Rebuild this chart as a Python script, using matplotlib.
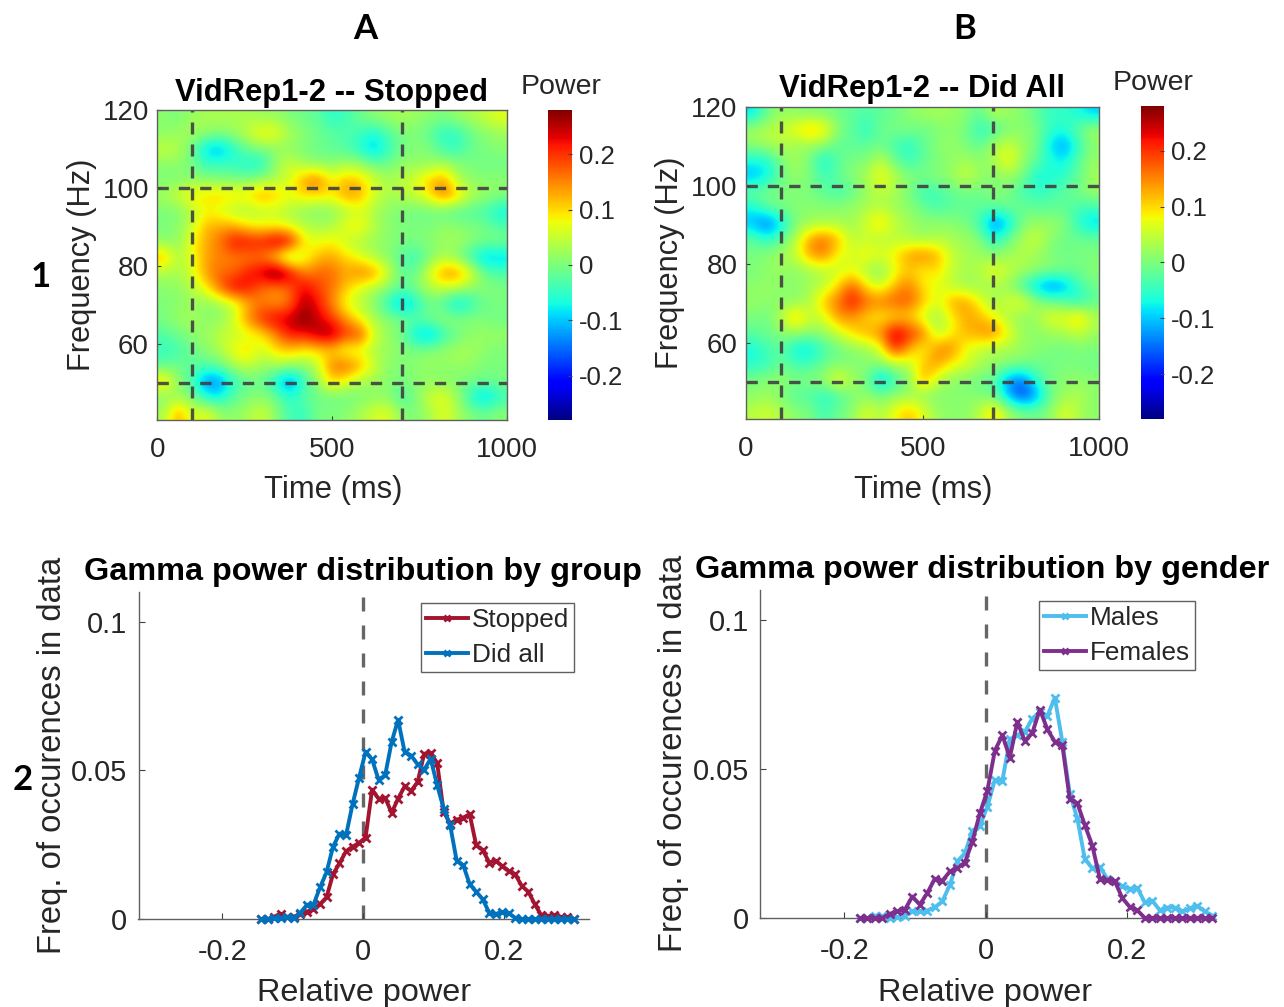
import matplotlib
matplotlib.use("Agg")
import matplotlib.pyplot as plt
import numpy as np

W, H = 1284, 1007

# Panel A heat map, power in hundredths, top row first
heat_a = [
[1,0,2,3,3,3,3,2,2,0,-1,-2,-6,-4,-1,1,2,3,2,1,0,2,3,5,7],
[1,2,3,2,1,2,5,9,8,3,1,-1,-2,-3,-4,-7,-3,0,0,-2,-6,-5,-1,1,2],
[5,4,-1,-10,-12,-6,-1,0,1,1,0,-1,-2,-3,-6,-11,-5,-1,1,0,-4,-5,-1,0,1],
[1,1,0,-5,-4,-5,-7,-7,2,6,2,1,1,3,2,-1,-1,2,1,2,3,1,0,-1,-1],
[0,0,1,1,0,0,0,2,3,6,14,17,8,12,11,6,3,4,7,11,14,3,1,1,1],
[3,6,9,10,11,10,10,14,11,8,10,10,9,14,13,6,3,4,5,10,17,11,4,2,1],
[0,0,4,8,6,3,3,4,5,3,1,0,1,3,6,3,1,0,-1,-1,-2,-3,-3,-4,-8],
[0,1,5,12,13,13,9,8,8,6,4,3,3,8,9,4,1,0,0,0,2,1,0,-1,-3],
[1,1,8,13,16,23,23,22,27,25,9,7,9,5,3,2,1,0,0,1,2,3,1,0,0],
[13,3,7,13,15,15,15,15,8,-1,6,12,13,10,7,3,1,-3,-5,0,3,0,-6,-11,-10],
[3,3,6,14,17,17,22,25,32,25,15,17,17,13,16,15,6,-2,-1,7,15,15,7,-2,-3],
[1,1,4,8,17,24,22,16,14,17,24,19,16,11,6,3,1,-2,0,4,5,4,1,1,0],
[0,1,2,1,2,5,12,16,14,16,26,22,15,7,4,1,-6,-12,-7,-1,-4,-10,-5,-1,0],
[0,2,3,1,1,6,15,21,24,25,29,24,20,14,8,3,1,0,-2,0,2,1,1,0,-1],
[-3,-1,1,2,5,5,6,9,15,22,21,26,27,20,20,6,2,-1,-9,-12,-5,-1,1,2,2],
[-5,-4,-1,1,3,8,11,5,10,11,9,9,10,5,6,3,2,1,0,1,2,3,3,1,0],
[-2,-1,-2,-3,-1,3,5,2,3,2,1,5,16,18,13,6,1,0,1,2,1,2,1,0,0],
[11,2,-4,-14,-14,-5,-2,-1,-8,-15,-5,2,11,7,3,2,1,0,1,1,1,0,0,-1,0],
[0,2,0,-7,-8,-2,0,1,-1,-6,-2,-1,-1,-1,0,1,1,-4,0,6,7,2,-7,-11,-5],
[3,14,5,8,2,1,3,6,1,-4,-5,0,0,1,3,6,7,1,0,3,7,3,0,-1,1],
]

# Panel B heat map, power in hundredths, top row first
heat_b = [
[-9,-1,2,1,0,0,-1,-2,-3,-2,-1,1,2,3,2,1,-2,4,2,1,-2,-5,-5,-7,-10],
[3,4,5,8,13,10,1,-2,-6,-1,0,0,-1,0,1,0,-6,-4,0,1,0,-5,-6,-1,3],
[1,3,4,2,2,1,-2,-2,-2,-1,-4,-6,-2,1,2,0,-2,3,6,2,0,-9,-13,-5,1],
[-7,-7,0,3,0,-8,-2,0,0,5,-1,-5,-2,0,1,3,1,3,9,2,-2,-6,-8,-2,2],
[-11,-8,-1,2,0,-4,-2,1,3,9,4,1,0,1,2,6,2,0,2,0,-7,-7,-5,-2,3],
[-1,0,0,0,0,-2,-4,-2,2,4,3,0,-5,-4,-2,-1,-1,1,0,-4,-5,-4,-2,0,2],
[-7,-2,0,1,1,1,1,2,3,4,2,1,-1,-4,-2,-2,-2,-2,-1,-1,-2,-2,-2,-4,-4],
[-11,-16,-9,0,2,3,3,2,6,11,5,3,1,2,1,0,-4,-15,-10,0,2,2,1,-6,-10],
[-2,-6,-2,4,14,17,12,4,5,3,4,3,2,3,3,2,1,-7,-1,3,6,1,-1,-1,-1],
[0,1,3,5,14,16,8,6,9,7,9,14,16,13,5,3,2,1,2,4,2,0,-1,0,0],
[0,1,2,1,2,4,5,7,3,0,7,11,8,10,5,3,4,8,5,3,2,1,0,-1,1],
[1,2,1,1,3,4,10,18,9,5,12,16,9,7,4,2,2,3,2,-4,-11,-15,-12,-4,-1],
[2,1,1,1,3,12,16,23,17,16,18,18,12,6,13,14,8,2,6,8,2,-1,-2,-7,-2],
[0,-1,4,13,5,6,14,14,10,8,9,10,5,2,8,13,12,8,3,1,2,8,7,12,4],
[-2,-1,1,2,1,2,5,10,13,15,26,21,17,3,8,12,14,16,8,2,1,2,3,5,2],
[-7,-4,-2,-8,-9,-4,-1,1,2,6,22,13,7,15,16,7,5,3,3,2,1,0,-1,0,0],
[-6,-5,-1,-4,-4,-1,0,0,1,1,3,4,11,14,8,7,3,2,1,0,-1,-1,0,0,-1],
[0,1,2,0,1,2,9,3,0,-12,-4,0,14,5,1,0,-1,-2,-13,-15,-5,0,1,1,1],
[1,2,0,-3,-3,-6,-4,0,1,0,1,2,1,0,1,1,0,-1,-11,-19,-13,-1,2,4,1],
[4,6,3,1,0,-4,-1,1,7,3,8,12,7,2,1,1,4,11,3,0,-1,1,7,3,1],
]

heat_extent = (0, 1000, 40.5, 120)
time_lines = [100, 700]
freq_lines = [50, 100]

# Bin positions of the group distributions
group_x = [-0.1447,-0.1355,-0.1262,-0.1170,-0.1078,-0.0985,-0.0893,-0.0800,-0.0708,-0.0616,
           -0.0523,-0.0431,-0.0339,-0.0246,-0.0154,-0.0062,0.0031,0.0123,0.0215,0.0308,
           0.0400,0.0492,0.0585,0.0677,0.0769,0.0862,0.0954,0.1046,0.1139,0.1231,
           0.1323,0.1416,0.1508,0.1600,0.1693,0.1785,0.1877,0.1970,0.2062,0.2154,
           0.2247,0.2339,0.2431,0.2524,0.2616,0.2708,0.2801,0.2893,0.2985]
stopped = [0,0,.0008,.0017,.0006,.0008,.0017,.0025,.0032,.005,.0073,.0151,.0187,.0228,.0243,.0256,.0274,
           .0435,.0405,.0408,.0357,.0405,.0446,.0431,.0461,.0556,.0558,.0525,.036,.0321,.0334,.0341,.0352,
           .0248,.0232,.019,.0196,.0178,.0161,.015,.0111,.0092,.005,.0012,.001,.0012,.0006,.0006,0]
did_all = [0,0,.0002,.0003,.0008,.0003,.0021,.0048,.0048,.0106,.0157,.0243,.0287,.0282,.0386,.0475,.0562,
           .0537,.0469,.0483,.0595,.067,.0562,.055,.052,.0502,.0539,.045,.0371,.0315,.0196,.0181,.0117,
           .0092,.0066,.0021,.0017,.0023,.0019,.0004,0,0,0,0,0,0,0,0,0]

# Bin positions of the gender distributions
gender_x = [-0.1778,-0.1672,-0.1566,-0.1460,-0.1354,-0.1248,-0.1142,-0.1036,-0.0930,-0.0824,
            -0.0718,-0.0612,-0.0506,-0.0400,-0.0294,-0.0188,-0.0082,0.0024,0.0130,0.0236,
            0.0342,0.0448,0.0554,0.0660,0.0766,0.0872,0.0978,0.1084,0.1190,0.1296,
            0.1402,0.1508,0.1614,0.1720,0.1826,0.1932,0.2038,0.2144,0.2250,0.2356,
            0.2462,0.2568,0.2674,0.2780,0.2886,0.2992,0.3098,0.3204]
males = [0,0,.0008,.0006,.0001,.0003,.0008,.0022,.0022,.0025,.0036,.0056,.0111,.019,.0217,.0293,.0309,
         .0373,.0463,.046,.0599,.0613,.0624,.0669,.0691,.0677,.0739,.0591,.0416,.0334,.0198,.0167,.0171,
         .0132,.0123,.0106,.0098,.0101,.0052,.0058,.0026,.0035,.0035,.0022,.0032,.0041,.0022,.0008]
females = [0,0,0,0,.0014,.0022,.0028,.0072,.0045,.0084,.0132,.0125,.0156,.0167,.0186,.0256,.0351,.0427,
           .0561,.0613,.0538,.0658,.0593,.0621,.0699,.0633,.0591,.058,.0398,.0385,.0312,.0243,.0132,.0128,
           .0123,.0067,.0037,.0026,0,0,0,0,0,0,0,0,0,0]

plt.rcParams['font.family'] = ['Liberation Sans', 'DejaVu Sans']
TICK = '#262626'
fig = plt.figure(figsize=(W/100, H/100), dpi=100, facecolor='white')

def box(x0, y0, x1, y1):
    return fig.add_axes([x0/W, 1-y1/H, (x1-x0)/W, (y1-y0)/H])

def fx(x): return x/W
def fy(y): return 1-y/H

def heat(rect, cbrect, data, title, title_xy, power_xy, xlab_xy, ylab_xy):
    ax = box(*rect)
    im = ax.imshow(np.array(data)/100, cmap='jet', vmin=-0.28, vmax=0.28, extent=heat_extent,
                   aspect='auto', interpolation='bicubic', origin='upper')
    for t in time_lines:
        ax.axvline(t, color='#404040', lw=2.4, dashes=(3.6, 3.0), alpha=0.9)
    for f in freq_lines:
        ax.axhline(f, color='#404040', lw=2.4, dashes=(3.4, 3.0), alpha=0.9)
    ax.set_xticks([0, 500, 1000])
    ax.set_yticks([60, 80, 100, 120])
    ax.tick_params(direction='in', length=3, width=0.8, color='#404040', labelsize=20, labelcolor=TICK)
    ax.tick_params(axis='x', pad=12)
    ax.tick_params(axis='y', pad=6)
    for s in ax.spines.values():
        s.set_color('#606060'); s.set_linewidth(1)
    ax.set_xlabel('Time (ms)', fontsize=22.3, color=TICK)
    ax.xaxis.set_label_coords(fx(xlab_xy[0]), fy(xlab_xy[1]), transform=fig.transFigure)
    ax.set_ylabel('Frequency (Hz)', fontsize=22.2, color=TICK)
    ax.yaxis.set_label_coords(fx(ylab_xy[0]), fy(ylab_xy[1]), transform=fig.transFigure)
    fig.text(fx(title_xy[0]), fy(title_xy[1]), title, fontsize=22.3, fontweight='bold', ha='center', va='center', color='black')
    cax = box(*cbrect)
    cb = fig.colorbar(im, cax=cax, ticks=[-0.2, -0.1, 0, 0.1, 0.2])
    cb.ax.set_yticklabels(['-0.2', '-0.1', '0', '0.1', '0.2'])
    cb.ax.tick_params(direction='in', length=3, width=0.8, color='#404040', labelsize=18.5, labelcolor=TICK, pad=5)
    cb.outline.set_visible(False)
    fig.text(fx(power_xy[0]), fy(power_xy[1]), 'Power', fontsize=20.5, ha='center', va='center', color=TICK)

heat((157.3, 110.5, 507.3, 420), (548, 110, 572, 420), heat_a, 'VidRep1-2 -- Stopped',
     (332, 93), (561, 87), (333, 475), (97, 265))
heat((746, 107, 1099.3, 419.3), (1141, 106, 1164, 419), heat_b, 'VidRep1-2 -- Did All',
     (922, 89), (1153, 83), (923, 475), (685, 263))

def dist(rect, x, series, title, title_xy, legend_xy, xlab_xy, ylab_xy):
    ax = box(*rect)
    ax.axvline(0, color='#666666', lw=2.4, dashes=(4.2, 4.2), zorder=1)
    for y, col, lab in series:
        ax.plot(x, y, color=col, lw=2.8, marker='x', ms=6, mew=2.0, label=lab, zorder=3, clip_on=False)
    ax.set_xlim(-0.319, 0.32)
    ax.set_ylim(0, 0.11)
    ax.set_xticks([-0.2, 0, 0.2])
    ax.set_xticklabels(['-0.2', '0', '0.2'])
    ax.set_yticks([0, 0.05, 0.1])
    ax.set_yticklabels(['0', '0.05', '0.1'])
    ax.tick_params(direction='in', length=4, width=0.8, color='#404040', labelsize=20.8, labelcolor=TICK)
    ax.tick_params(axis='x', pad=14)
    ax.tick_params(axis='y', pad=8)
    ax.spines['top'].set_visible(False)
    ax.spines['right'].set_visible(False)
    for s in ('left', 'bottom'):
        ax.spines[s].set_color('#606060'); ax.spines[s].set_linewidth(1)
    ax.set_xlabel('Relative power', fontsize=23.3, color=TICK)
    ax.xaxis.set_label_coords(fx(xlab_xy[0]), fy(xlab_xy[1]), transform=fig.transFigure)
    ax.set_ylabel('Freq. of occurences in data', fontsize=23.6, color=TICK)
    ax.yaxis.set_label_coords(fx(ylab_xy[0]), fy(ylab_xy[1]), transform=fig.transFigure)
    fig.text(fx(title_xy[0]), fy(title_xy[1]), title, fontsize=23.3, fontweight='bold', ha='center', va='center', color='black')
    leg = ax.legend(loc='upper left', bbox_to_anchor=(fx(legend_xy[0]), fy(legend_xy[1])), bbox_transform=fig.transFigure,
                    fontsize=18.8, frameon=True, fancybox=False, edgecolor='#606060', framealpha=1,
                    borderaxespad=0, handlelength=1.6, handletextpad=0.15, labelspacing=0.4, borderpad=0.2,
                    markerscale=0.7)
    leg.get_frame().set_linewidth(1)
    for t in leg.get_texts():
        t.set_color(TICK)

dist((138.5, 592, 589, 919), group_x,
     [(stopped, '#A2142F', 'Stopped'), (did_all, '#0072BD', 'Did all')],
     'Gamma power distribution by group', (363, 572), (421, 603), (364, 978), (68, 755))
dist((760, 590, 1212, 918), gender_x,
     [(males, '#4DBEEE', 'Males'), (females, '#7E2F8E', 'Females')],
     'Gamma power distribution by gender', (982, 570), (1039, 601), (985, 978), (689, 753))

for txt, xy in (('A', (365, 29)), ('B', (965, 29)), ('1', (41, 277)), ('2', (23, 780))):
    fig.text(fx(xy[0]), fy(xy[1]), txt, fontsize=25, fontweight='bold', ha='center', va='center',
             color='black', family=['Lato', 'DejaVu Sans'])

fig.savefig('out.png', dpi=100)
